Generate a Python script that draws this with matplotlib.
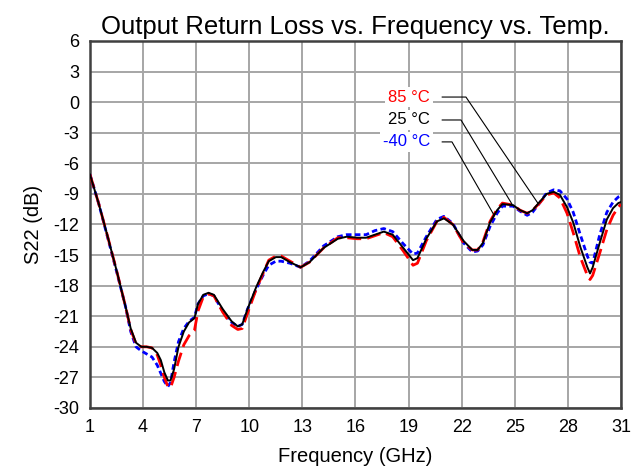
import matplotlib.pyplot as plt

plt.rcParams['font.family'] = ['Liberation Sans', 'DejaVu Sans']
plt.rcParams['axes.unicode_minus'] = False

freq = [1.0, 1.5, 2.0, 2.5, 3.0, 3.3, 3.6, 3.9, 4.2, 4.5, 4.8, 5.0, 5.2, 5.4, 5.55,
        5.75, 6.0, 6.3, 6.6, 6.9, 7.1, 7.4, 7.7, 8.0, 8.5, 9.0, 9.35, 9.6, 9.9,
        10.4, 10.8, 11.1, 11.5, 11.8, 12.3, 12.9, 13.4, 14.2, 15.0, 15.5, 16.1,
        16.6, 17.1, 17.6, 18.1, 18.7, 19.25, 19.5, 20.0, 20.6, 21.0, 21.5, 22.1,
        22.6, 22.9, 23.2, 23.6, 24.0, 24.3, 24.9, 25.3, 25.7, 26.0, 26.4, 26.8,
        27.2, 27.55, 27.95, 28.3, 28.7, 29.1, 29.25, 29.4, 29.8, 30.2, 30.55,
        30.85, 31.0]

s22_85 = [-7.1, -10.0, -13.2, -16.5, -20.0, -22.3, -23.7, -24.0, -24.0, -24.1,
          -24.8, -25.8, -27.0, -27.9, -28.0, -27.0, -25.4, -23.8, -22.9, -22.4,
          -20.5, -19.1, -18.8, -19.0, -20.6, -21.9, -22.3, -22.2, -20.7, -18.3,
          -16.7, -15.5, -15.1, -15.1, -15.6, -16.2, -15.7, -14.3, -13.3, -13.3,
          -13.4, -13.4, -13.1, -12.8, -13.2, -14.6, -16.0, -15.8, -13.6, -11.7,
          -11.3, -12.0, -13.8, -14.5, -14.5, -13.7, -11.7, -10.5, -9.9, -10.1,
          -10.6, -10.9, -10.6, -9.9, -9.1, -8.9, -9.4, -10.9, -12.8, -15.2,
          -17.0, -17.4, -17.0, -14.8, -12.5, -11.1, -10.3, -10.0]

s22_25 = [-7.1, -10.0, -13.2, -16.5, -20.0, -22.2, -23.6, -24.0, -24.0, -24.1,
          -24.6, -25.3, -26.5, -27.3, -27.3, -26.2, -24.0, -22.5, -21.6, -21.2,
          -19.8, -18.9, -18.7, -18.9, -20.3, -21.5, -22.0, -21.8, -20.3, -18.1,
          -16.6, -15.6, -15.2, -15.2, -15.7, -16.2, -15.7, -14.3, -13.4, -13.2,
          -13.3, -13.3, -13.0, -12.7, -13.0, -14.3, -15.5, -15.3, -13.4, -11.7,
          -11.4, -12.0, -13.6, -14.5, -14.5, -13.8, -11.8, -10.6, -10.0, -10.1,
          -10.6, -10.9, -10.6, -9.8, -9.0, -8.8, -9.1, -10.3, -11.8, -14.2,
          -16.2, -16.8, -16.2, -13.8, -11.5, -10.4, -9.9, -9.8]

s22_m40 = [-7.1, -10.0, -13.3, -16.6, -20.0, -22.5, -24.0, -24.4, -24.7, -25.0,
           -25.8, -26.6, -27.4, -27.9, -27.5, -25.5, -23.5, -22.2, -21.5, -21.1,
           -19.8, -19.0, -18.8, -19.0, -20.5, -21.6, -22.0, -21.8, -20.3, -18.3,
           -16.9, -16.0, -15.6, -15.6, -15.8, -16.2, -15.6, -14.1, -13.2, -13.0,
           -13.0, -13.0, -12.6, -12.4, -12.7, -13.9, -14.9, -14.8, -13.2, -11.5,
           -11.2, -11.9, -13.8, -14.7, -14.6, -14.0, -12.2, -10.9, -10.2, -10.2,
           -10.7, -11.1, -10.8, -9.9, -8.9, -8.6, -8.7, -9.5, -10.8, -13.0,
           -15.1, -15.7, -15.8, -13.0, -10.8, -9.8, -9.3, -9.2]

xticks = list(range(1, 32, 3))
yticks = list(range(-30, 7, 3))

fig = plt.figure(figsize=(6.41, 4.71), dpi=100)
ax = fig.add_axes([0.1404, 0.1338, 0.8284, 0.7792])

ax.plot(freq, s22_m40, color='#0000FF', lw=2, ls=(0, (2, 1.2)), zorder=3)
ax.plot(freq, s22_85, color='#FF0000', lw=2, ls=(0, (5, 2.2)), zorder=4)
ax.plot(freq, s22_25, color='black', lw=1.4, zorder=5)

ax.set_xlim(1, 31)
ax.set_ylim(-30, 6)
ax.set_xticks(xticks)
ax.set_yticks(yticks)
ax.tick_params(length=0, labelsize=13, pad=8)
ax.grid(True, color='#A6A6A6', lw=1.4)
ax.set_axisbelow(True)
for sp in ax.spines.values():
    sp.set_color('#404040')
    sp.set_linewidth(1.8)

ax.set_xlabel('Frequency (GHz)', fontsize=14.5, labelpad=8)
ax.set_ylabel('S22 (dB)', fontsize=14.5, labelpad=7)
ax.set_title('Output Return Loss vs. Frequency vs. Temp.', fontsize=18.5,
             pad=5)

# labels with leader lines
labels = [('85 °C', '#FF0000', 0.5, 22.24, (26.3, -9.9)),
          ('25 °C', 'black', -1.75, 21.96, (24.84, -10.0)),
          ('-40 °C', '#0000FF', -3.9, 21.45, (23.8, -11.0))]
for txt, col, y, xk, end in labels:
    ax.text(20.2, y, txt, color=col, fontsize=12, ha='right', va='center',
            bbox=dict(facecolor='white', edgecolor='none', pad=2), zorder=6)
    ax.plot([20.9, xk, end[0]], [y, y, end[1]], color='black', lw=0.8,
            zorder=6)

fig.savefig('out.png', dpi=100)
